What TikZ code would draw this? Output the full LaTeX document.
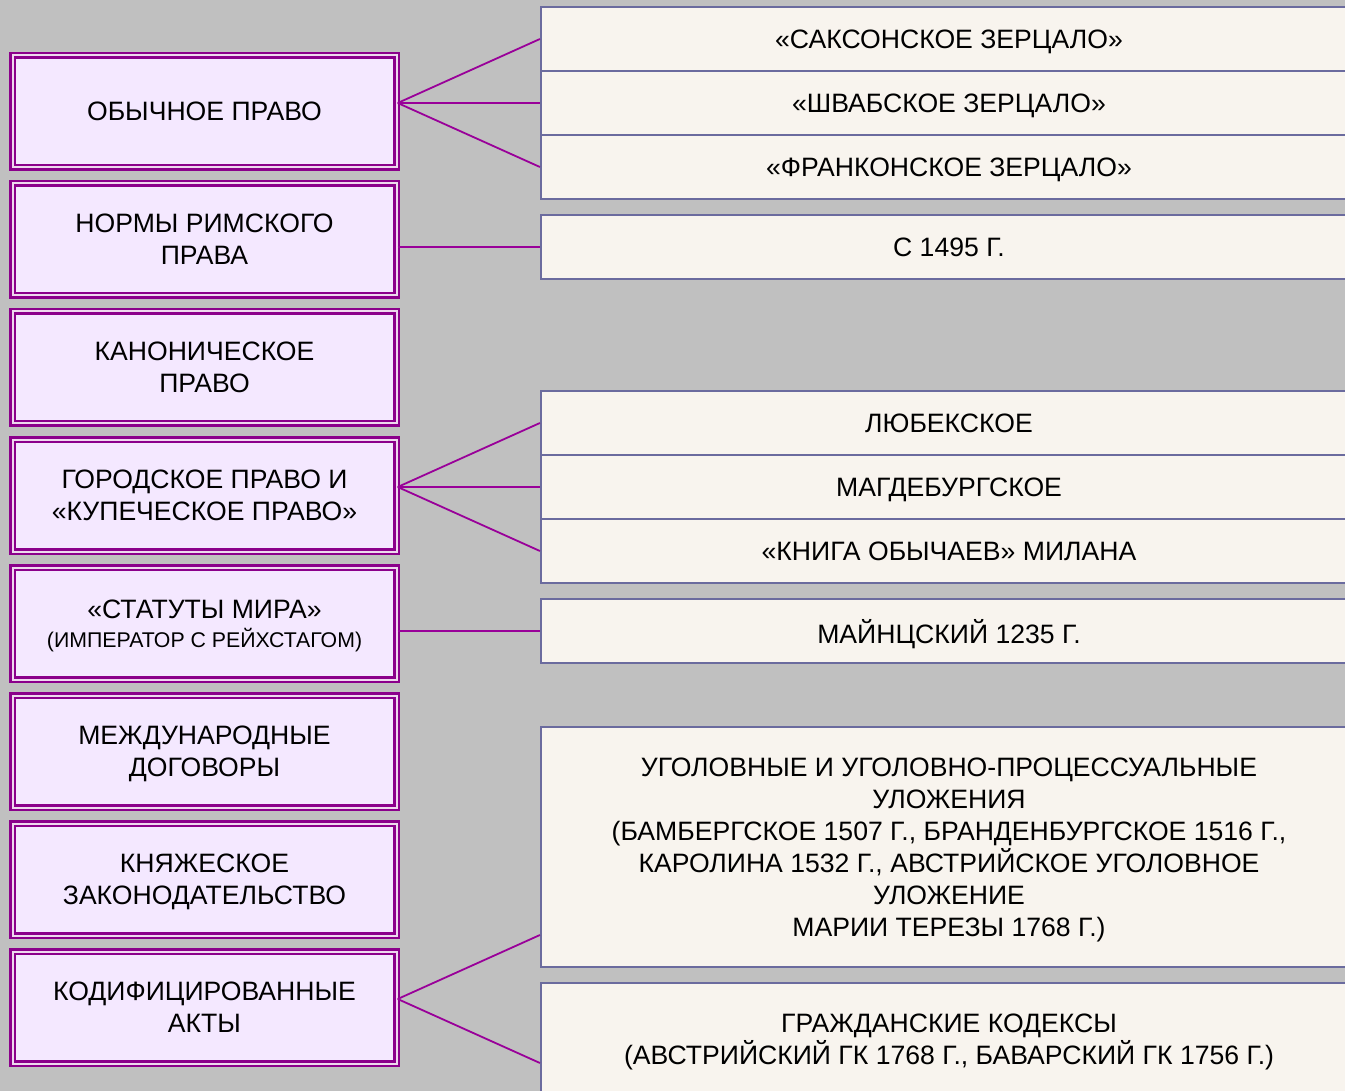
\documentclass[tikz,border=0pt]{standalone}
\usepackage{fontspec}
\setmainfont{Liberation Sans}
\usetikzlibrary{calc}
\definecolor{BackClr}{HTML}{C0C0C0}
\definecolor{SourceClr}{HTML}{8B008B}
\definecolor{SourceFill}{HTML}{F4E8FF}
\definecolor{ItemClr}{HTML}{6B6B9E}
\definecolor{ItemFill}{HTML}{F8F4EE}
\definecolor{LinkClr}{HTML}{990099}
\tikzset{
  source/.style={draw=SourceClr,line width=2.4pt,double=white!85!SourceClr,double distance=2pt,
    fill=SourceFill,minimum width=384pt,minimum height=112pt,align=center,inner sep=0pt,
    text depth=0pt,font=\fontsize{26.6}{32}\selectfont},
  item/.style={draw=ItemClr,line width=2.2pt,fill=ItemFill,minimum width=816pt,minimum height=64pt,
    align=center,inner sep=0pt,text depth=0pt,font=\fontsize{26.6}{32}\selectfont},
  link/.style={draw=LinkClr,line width=1.8pt}
}

\begin{document}
\begin{tikzpicture}[x=1pt,y=-1pt]
\useasboundingbox (0,0) rectangle (1345,1091);
\fill[BackClr] (0,0) rectangle (1345,1091);
\clip (0,0) rectangle (1345,1091);

\node[source] (l1) at (204.5,111.5) {ОБЫЧНОЕ ПРАВО};
\node[source] (l2) at (204.5,239.5) {НОРМЫ РИМСКОГО\\ПРАВА};
\node[source] (l3) at (204.5,367.5) {КАНОНИЧЕСКОЕ\\ПРАВО};
\node[source] (l4) at (204.5,495.5) {ГОРОДСКОЕ ПРАВО И\\«КУПЕЧЕСКОЕ ПРАВО»};
\node[source] (l5) at (204.5,623.5) {«СТАТУТЫ МИРА»\\[-3pt]{\fontsize{21.3}{24}\selectfont (ИМПЕРАТОР С РЕЙХСТАГОМ)}};
\node[source] (l6) at (204.5,751.5) {МЕЖДУНАРОДНЫЕ\\ДОГОВОРЫ};
\node[source] (l7) at (204.5,879.5) {КНЯЖЕСКОЕ\\ЗАКОНОДАТЕЛЬСТВО};
\node[source] (l8) at (204.5,1007.5) {КОДИФИЦИРОВАННЫЕ\\АКТЫ};

\node[item] (r1) at (949,39) {«САКСОНСКОЕ ЗЕРЦАЛО»};
\node[item] (r2) at (949,103) {«ШВАБСКОЕ ЗЕРЦАЛО»};
\node[item] (r3) at (949,167) {«ФРАНКОНСКОЕ ЗЕРЦАЛО»};
\node[item] (r4) at (949,247) {С 1495 Г.};
\node[item] (r5) at (949,423) {ЛЮБЕКСКОЕ};
\node[item] (r6) at (949,487) {МАГДЕБУРГСКОЕ};
\node[item] (r7) at (949,551) {«КНИГА ОБЫЧАЕВ» МИЛАНА};
\node[item] (r8) at (949,631) {МАЙНЦСКИЙ 1235 Г.};
\node[item,minimum height=240pt] (r9) at (949,847) {УГОЛОВНЫЕ И УГОЛОВНО-ПРОЦЕССУАЛЬНЫЕ\\УЛОЖЕНИЯ\\(БАМБЕРГСКОЕ 1507 Г., БРАНДЕНБУРГСКОЕ 1516 Г.,\\КАРОЛИНА 1532 Г., АВСТРИЙСКОЕ УГОЛОВНОЕ\\УЛОЖЕНИЕ\\МАРИИ ТЕРЕЗЫ 1768 Г.)};
\node[item,minimum height=112pt] (r10) at (949,1039) {ГРАЖДАНСКИЕ КОДЕКСЫ\\(АВСТРИЙСКИЙ ГК 1768 Г., БАВАРСКИЙ ГК 1756 Г.)};

\coordinate (k1) at (l1.east |- r2.west);
\coordinate (k2) at (l2.east |- r4.west);
\coordinate (k4) at (l4.east |- r6.west);
\coordinate (k5) at (l5.east |- r8.west);
\coordinate (k8) at ($(l8.east)+(0,-8.5)$);
\coordinate (e9) at ($(r9.west)+(0,88)$);
\coordinate (e10) at ($(r10.west)+(0,24)$);

\draw[link] (k1) -- (r1.west) (k1) -- (r2.west) (k1) -- (r3.west);
\draw[link] (k2) -- (r4.west);
\draw[link] (k4) -- (r5.west) (k4) -- (r6.west) (k4) -- (r7.west);
\draw[link] (k5) -- (r8.west);
\draw[link] (k8) -- (e9) (k8) -- (e10);

\end{tikzpicture}
\end{document}
